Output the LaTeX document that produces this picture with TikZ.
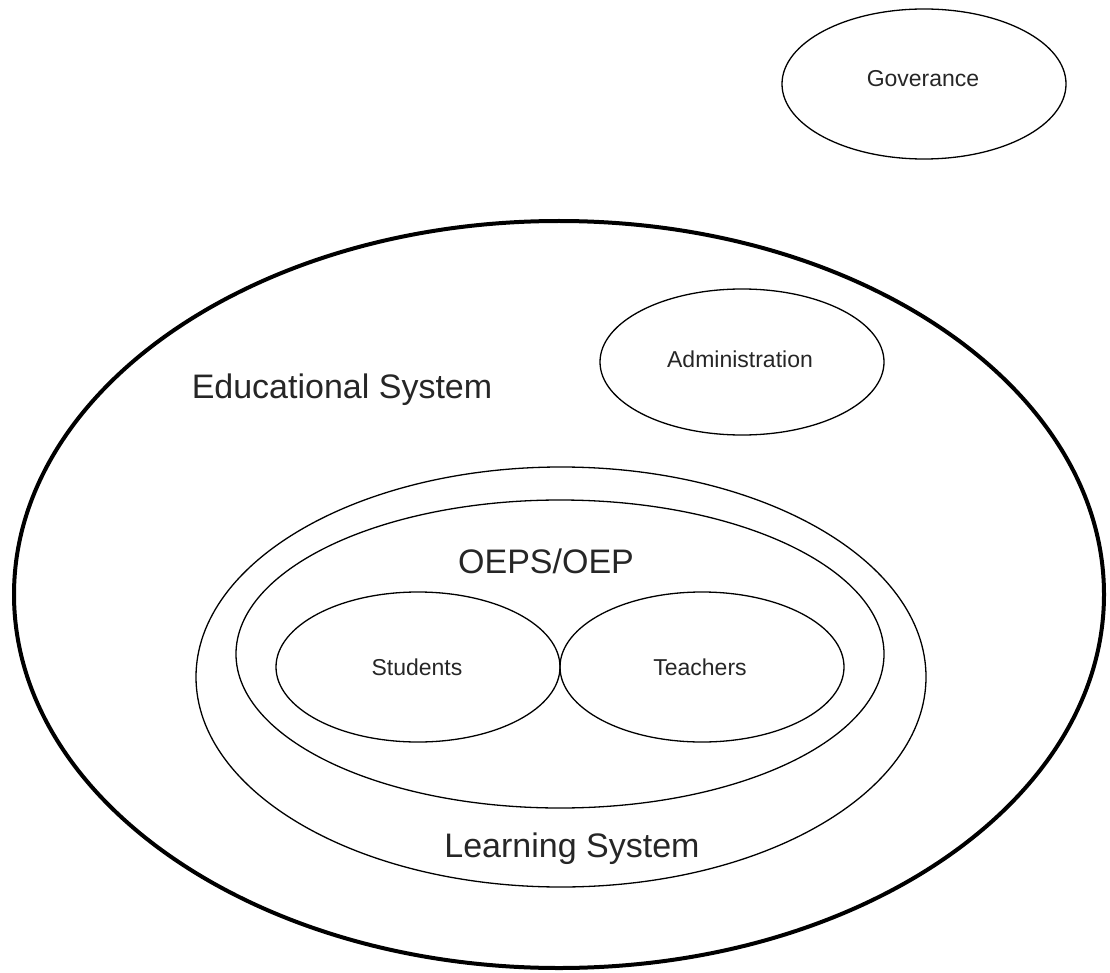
\documentclass[tikz,border=0pt]{standalone}
\usepackage{fontspec}
\setmainfont{Liberation Sans}
\begin{document}
\begin{tikzpicture}[x=1pt,y=-1pt,
  thin ell/.style={draw=black,line width=1.3pt},
  big ell/.style={draw=black,line width=4pt},
  small lbl/.style={anchor=base,inner sep=0pt,font=\fontsize{23}{27}\selectfont,text=black!85},
  big lbl/.style={anchor=base,inner sep=0pt,font=\fontsize{34}{40}\selectfont,text=black!85}]
\useasboundingbox (0,0) rectangle (1110,973);
\draw[big ell] (559,594.5) ellipse [x radius=545, y radius=373.5];
\draw[thin ell] (924,84) ellipse [x radius=142, y radius=75];
\draw[thin ell] (742,362) ellipse [x radius=142, y radius=73];
\draw[thin ell] (561,677) ellipse [x radius=365, y radius=210];
\draw[thin ell] (560,654) ellipse [x radius=324, y radius=154];
\draw[thin ell] (418,667) ellipse [x radius=142, y radius=75];
\draw[thin ell] (702,667) ellipse [x radius=142, y radius=75];
\node[small lbl] (gov) at (923,87) {Goverance};
\node[small lbl] (adm) at (740,367) {Administration};
\node[big lbl] (edu) at (342,398) {Educational System};
\node[big lbl] (oeps) at (546,573) {OEPS/OEP};
\node[small lbl] (stu) at (417,675) {Students};
\node[small lbl] (tea) at (700,675) {Teachers};
\node[big lbl] (lrn) at (572,857) {Learning System};
\end{tikzpicture}
\end{document}
